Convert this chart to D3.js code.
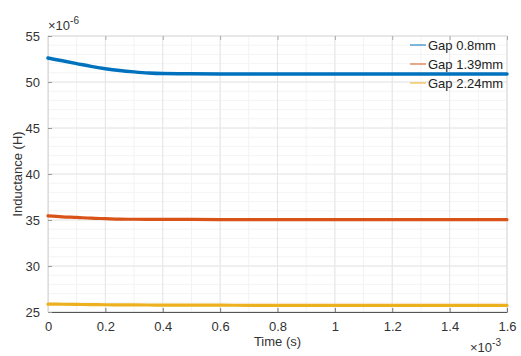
<!DOCTYPE html>
<html>
<head>
<meta charset="utf-8">
<script src="https://cdn.jsdelivr.net/npm/d3@7"></script>
<style>
  body { margin: 0; background: #fff; }
  svg { font-family: "Liberation Sans", Arial, sans-serif; }
</style>
</head>
<body>
<svg id="chart" width="521" height="356"></svg>
<script>
// data (time in ms x10^-3, inductance in uH x10^-6)
const seriesNames = ["Gap 0.8mm", "Gap 1.39mm", "Gap 2.24mm"];
const seriesColors = ["#0072BD", "#D95319", "#EDB120"];
const timeVals = [0, 0.05, 0.1, 0.15, 0.2, 0.25, 0.3, 0.35, 0.4, 0.5, 0.6, 0.7, 0.8, 0.9, 1.0, 1.1, 1.2, 1.3, 1.4, 1.5, 1.6];
const gap08 = [52.6, 52.3, 52.0, 51.7, 51.45, 51.25, 51.1, 50.98, 50.92, 50.9, 50.88, 50.88, 50.87, 50.87, 50.87, 50.86, 50.86, 50.86, 50.86, 50.86, 50.86];
const gap139 = [35.45, 35.35, 35.28, 35.2, 35.15, 35.1, 35.08, 35.07, 35.06, 35.06, 35.05, 35.05, 35.05, 35.05, 35.05, 35.05, 35.05, 35.05, 35.05, 35.05, 35.05];
const gap224 = [25.85, 25.84, 25.82, 25.8, 25.79, 25.78, 25.77, 25.76, 25.75, 25.74, 25.74, 25.73, 25.73, 25.73, 25.72, 25.72, 25.72, 25.72, 25.72, 25.72, 25.72];
const xTicks = [0, 0.2, 0.4, 0.6, 0.8, 1, 1.2, 1.4, 1.6];
const yTicks = [25, 30, 35, 40, 45, 50, 55];

const svg = d3.select("#chart");
const margin = {top: 36, right: 14, bottom: 44, left: 48},
    width = 521 - margin.left - margin.right,
    height = 356 - margin.top - margin.bottom;

const g = svg.append("g")
    .attr("transform", "translate(" + margin.left + "," + margin.top + ")");

const x = d3.scaleLinear().domain([0, 1.6]).range([0, width]);
const y = d3.scaleLinear().domain([25, 55]).range([height, 0]);

// minor grid
g.append("g").selectAll("line")
    .data(d3.range(0, 1.6001, 0.1))
    .enter().append("line")
    .attr("x1", d => x(d)).attr("x2", d => x(d))
    .attr("y1", 0).attr("y2", height)
    .attr("stroke", "#f2f2f2");
g.append("g").selectAll("line")
    .data(d3.range(25, 55.001, 1))
    .enter().append("line")
    .attr("y1", d => y(d)).attr("y2", d => y(d))
    .attr("x1", 0).attr("x2", width)
    .attr("stroke", "#f4f4f4");
// major grid
g.append("g").selectAll("line")
    .data(xTicks)
    .enter().append("line")
    .attr("x1", d => x(d)).attr("x2", d => x(d))
    .attr("y1", 0).attr("y2", height)
    .attr("stroke", "#e6e6e6");
g.append("g").selectAll("line")
    .data(yTicks)
    .enter().append("line")
    .attr("y1", d => y(d)).attr("y2", d => y(d))
    .attr("x1", 0).attr("x2", width)
    .attr("stroke", "#e6e6e6");

// box
g.append("rect")
    .attr("width", width).attr("height", height)
    .attr("fill", "none").attr("stroke", "#e0e0e0");

// axes
const xAxis = d3.axisBottom(x).tickValues(xTicks).tickSizeInner(-4).tickSizeOuter(0).tickPadding(10)
    .tickFormat(d => d3.format("")(d));
const xAxisG = g.append("g").attr("transform", "translate(0," + height + ")").call(xAxis);
xAxisG.select(".domain").attr("stroke", "#555");
xAxisG.selectAll(".tick line").attr("stroke", "#777");
xAxisG.selectAll("text").attr("font-size", "13px").attr("fill", "#333");

const xTop = d3.axisTop(x).tickValues(xTicks).tickSizeInner(-4).tickSizeOuter(0).tickFormat("");
const xTopG = g.append("g").call(xTop);
xTopG.select(".domain").remove();
xTopG.selectAll(".tick line").attr("stroke", "#aaa");

const yAxis = d3.axisLeft(y).tickValues(yTicks).tickSizeInner(-4).tickSizeOuter(0).tickPadding(8);
const yAxisG = g.append("g").call(yAxis);
yAxisG.select(".domain").attr("stroke", "#ddd");
yAxisG.selectAll(".tick line").attr("stroke", "#999");
yAxisG.selectAll("text").attr("font-size", "13px").attr("fill", "#333");

// lines
const allSeries = [gap08, gap139, gap224];
const line = d3.line()
    .x((d, i) => x(timeVals[i]))
    .y(d => y(d))
    .curve(d3.curveMonotoneX);

g.append("g").selectAll("path")
    .data(allSeries)
    .enter().append("path")
    .attr("d", d => line(d))
    .attr("fill", "none")
    .attr("stroke", (d, i) => seriesColors[i])
    .attr("stroke-width", (d, i) => i == 0 ? 3.5 : 3.2)
    .attr("stroke-linecap", "round");

// labels
svg.append("text")
    .attr("x", margin.left + width / 2)
    .attr("y", 346)
    .attr("text-anchor", "middle")
    .attr("font-size", "13px").attr("fill", "#333")
    .text("Time (s)");

svg.append("text")
    .attr("transform", "translate(22," + (margin.top + height / 2) + ") rotate(-90)")
    .attr("text-anchor", "middle")
    .attr("font-size", "13px").attr("fill", "#333")
    .text("Inductance (H)");

// exponent labels
const expTop = svg.append("text").attr("x", 48).attr("y", 30).attr("font-size", "13px").attr("fill", "#333");
expTop.append("tspan").text("\u00d710");
expTop.append("tspan").attr("dy", -6).attr("font-size", "10px").text("-6");

const expBot = svg.append("text").attr("x", 470).attr("y", 352).attr("font-size", "13px").attr("fill", "#333");
expBot.append("tspan").text("\u00d710");
expBot.append("tspan").attr("dy", -6).attr("font-size", "10px").text("-3");

// legend
const legend = svg.append("g")
    .selectAll("g")
    .data(seriesNames)
    .enter().append("g")
    .attr("transform", (d, i) => "translate(410," + (45 + i * 19) + ")");

legend.append("line")
    .attr("x1", 0).attr("x2", 16)
    .attr("stroke", (d, i) => seriesColors[i])
    .attr("stroke-width", 1);

legend.append("text")
    .attr("x", 18).attr("dy", "0.35em")
    .attr("font-size", "13px").attr("fill", "#222")
    .text(d => d);
</script>
</body>
</html>
